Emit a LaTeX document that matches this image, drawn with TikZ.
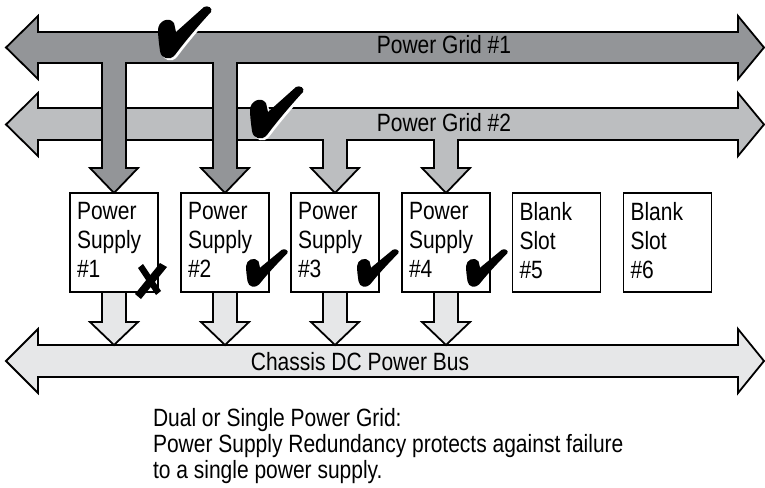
\documentclass[tikz,border=0pt]{standalone}
\usepackage{fontspec}
\setmainfont[FakeStretch=0.84]{Liberation Sans}
\definecolor{gridA}{HTML}{939598}
\definecolor{gridB}{HTML}{BCBEC0}
\definecolor{busC}{HTML}{E6E7E8}
\begin{document}
\begin{tikzpicture}[x=1pt,y=-1pt,
  every node/.style={inner sep=0pt, outer sep=0pt, font=\fontsize{25}{29}\selectfont},
  shape outline/.style={draw=black, line width=1.8pt, line join=miter},
  psbox/.style={draw=black, line width=1.8pt, fill=white, minimum width=88pt, minimum height=99pt},
  boxtext/.style={anchor=north west, align=left},
  pics/chkmark/.style={code={
    \fill (0,24) .. controls (0,15) and (11,10) .. (16,17) -- (18,26) -- (46,1)
      .. controls (50,-1) and (55,2) .. (53,6)
      .. controls (40,20) and (25,38) .. (17,49)
      .. controls (12,55) and (3,53) .. (2,45)
      .. controls (1,38) and (0,30) .. (0,24) -- cycle;
  }}
]
\useasboundingbox (0,0) rectangle (765,487);
\fill[white] (0,0) rectangle (765,487);

% Power grid 2 with its drops
\filldraw[shape outline, fill=gridB]
  (6,124.5) -- (38,93) -- (38,108) -- (738,108) -- (738,93) -- (764,124.5) -- (738,156) -- (738,140)
  -- (458,140) -- (458,168) -- (470,168) -- (446,193) -- (422,168) -- (434,168) -- (434,140)
  -- (347,140) -- (347,168) -- (359,168) -- (335,193) -- (311,168) -- (323,168) -- (323,140)
  -- (38,140) -- (38,156) -- cycle;

% Power grid 1 with its drops
\filldraw[shape outline, fill=gridA]
  (6,47.5) -- (38,16) -- (38,32) -- (738,32) -- (738,16) -- (764,47.5) -- (738,79) -- (738,63)
  -- (237,63) -- (237,168) -- (249,168) -- (225,193) -- (201,168) -- (213,168) -- (213,63)
  -- (126,63) -- (126,168) -- (138,168) -- (114,193) -- (90,168) -- (102,168) -- (102,63)
  -- (38,63) -- (38,79) -- cycle;

\node[anchor=base] (g1) at (444,54) {Power Grid \#1};
\node[anchor=base] (g2) at (444,131) {Power Grid \#2};

% Chassis bus
\filldraw[shape outline, fill=busC]
  (6,361) -- (38,329) -- (38,345) -- (738,345) -- (738,329) -- (764,361) -- (738,393) -- (738,377)
  -- (38,377) -- (38,393) -- cycle;
\node[anchor=base] (bus) at (360,370) {Chassis DC Power Bus};

% supply to bus arrows
\foreach \c in {114,225,335,446}{
  \filldraw[shape outline, fill=busC]
    (\c-12,292) -- (\c-12,322) -- (\c-24,322) -- (\c,345) -- (\c+24,322) -- (\c+12,322) -- (\c+12,292);
}

% boxes
\node[psbox] (b1) at (114,242.5) {};
\node[psbox] (b2) at (225,242.5) {};
\node[psbox] (b3) at (335,242.5) {};
\node[psbox] (b4) at (446,242.5) {};
\node[psbox] (b5) at (556.5,242.5) {};
\node[psbox] (b6) at (667.5,242.5) {};
\node[boxtext] (t1) at ([shift={(7,9)}]b1.north west) {Power\\Supply\\\#1};
\node[boxtext] (t2) at ([shift={(7,9)}]b2.north west) {Power\\Supply\\\#2};
\node[boxtext] (t3) at ([shift={(7,9)}]b3.north west) {Power\\Supply\\\#3};
\node[boxtext] (t4) at ([shift={(7,9)}]b4.north west) {Power\\Supply\\\#4};
\node[boxtext] (t5) at ([shift={(7,9)}]b5.north west) {Blank\\Slot\\\#5};
\node[boxtext] (t6) at ([shift={(7,9)}]b6.north west) {Blank\\Slot\\\#6};

% big check marks with white edge
\pic[white] at (160,8) {chkmark};
\pic[black] at (158,6) {chkmark};
\pic[white] at (252,88) {chkmark};
\pic[black] at (250,86) {chkmark};

% small check marks
\pic[black, xscale=0.78, yscale=0.72] at (246,249) {chkmark};
\pic[black, xscale=0.78, yscale=0.72] at (357,249) {chkmark};
\pic[black, xscale=0.78, yscale=0.72] at (466,249) {chkmark};

% failure cross (brush strokes)
\fill (135,294) -- (160,263) -- (167,267) -- (141,299) -- cycle;
\fill (138,268) -- (143,264) -- (161,291) -- (156,295) -- cycle;

% note
\node[anchor=north west, align=left, font=\fontsize{25}{26}\selectfont] (note) at (153,408)
  {Dual or Single Power Grid:\\Power Supply Redundancy protects against failure\\to a single power supply.};
\end{tikzpicture}
\end{document}
